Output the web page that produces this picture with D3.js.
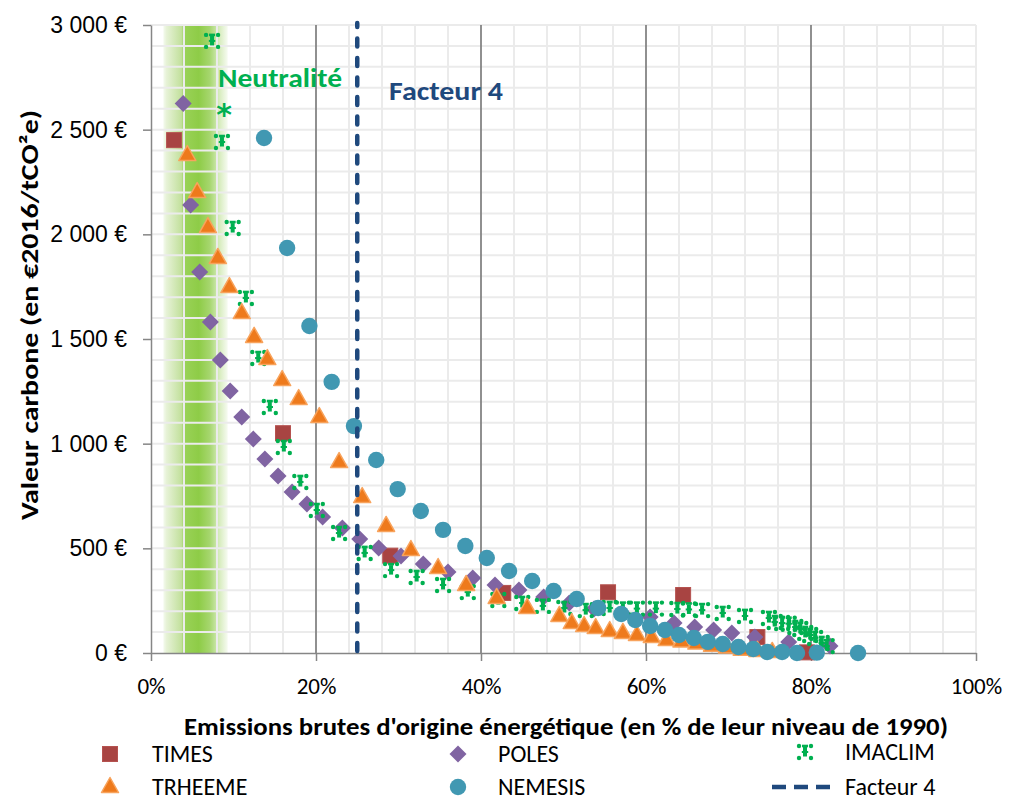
<!DOCTYPE html>
<html><head><meta charset="utf-8">
<script src="https://cdn.jsdelivr.net/npm/d3@7"></script>
<style>body{margin:0;background:#fff}svg{display:block}</style>
</head><body><svg id="c" width="1010" height="802"></svg>
<script>
// ---------- DATA ----------
const xTicks = [0, 20, 40, 60, 80, 100];
const xTickLabels = ["0%", "20%", "40%", "60%", "80%", "100%"];
const yTicks = [0, 500, 1000, 1500, 2000, 2500, 3000];
const yTickLabels = ["0 €", "500 €", "1 000 €", "1 500 €", "2 000 €", "2 500 €", "3 000 €"];

const seriesNames = ["TIMES", "POLES", "IMACLIM", "TRHEEME", "NEMESIS", "Facteur 4"];

const times = [[2.8,2450],[16,1050],[29,465],[42.7,287],[55.4,290],[64.5,277],[73.5,76],[79.5,3]];
const poles = [[3.9,2625],[4.8,2140],[5.9,1820],[7.2,1581],[8.4,1400],[9.6,1252],[11,1127],[12.4,1022],
  [13.8,927],[15.4,846],[17.1,769],[18.9,712],[20.8,650],[23.2,597],[25.3,545],[27.6,502],[30.3,463],
  [33,425],[36,387],[39,358],[41.7,325],[44.6,301],[47.6,268],[50.7,239],[53.7,210],[57.1,191],
  [60.5,172],[63.4,143],[65.9,124],[68.2,110],[70.4,96],[73.2,76],[77.3,53],[82.3,33]];
const imaclim = [[7.4,2924],[8.6,2441],[9.9,2030],[11.5,1696],[13,1409],[14.4,1175],[16.1,984],[18.1,817],
  [20.1,683],[22.8,573],[25.9,478],[29.1,396],[32.2,363],[35.4,325],[38.4,291],[42.1,253],[45,239],
  [47.5,225],[50.1,215],[52.7,205],[55.6,215],[57.2,212],[58.9,212],[61.2,212],[63.8,210],[65.2,208],
  [66.8,205],[69.3,191],[72,177],[74.9,167],[75.6,148],[76.5,143],[77.3,140],[78.1,124],[78.7,115],
  [79.3,96],[79.9,86],[80.5,72],[81.3,48],[81.9,33]];
const trheeme = [[4.4,2379],[5.6,2202],[6.9,2035],[8.1,1887],[9.5,1748],[11,1624],[12.5,1510],[14.1,1404],
  [15.9,1304],[17.9,1213],[20.4,1127],[22.8,912],[25.6,745],[28.5,607],[31.5,492],[34.8,406],[38.2,325],
  [41.9,263],[45.6,215],[49.5,177],[51,143],[52.5,129],[53.9,119],[55.6,105],[57.2,96],[58.9,86],
  [60.7,76],[62.5,62],[64.3,55],[66.1,45],[68,35],[69.8,26],[71.6,16],[73.5,10],[75.3,5]];
const nemesis = [[13.7,2460],[16.5,1935],[19.2,1562],[21.9,1295],[24.6,1084],[27.3,922],[29.9,783],
  [32.7,678],[35.4,588],[38.1,511],[40.7,454],[43.4,392],[46.2,344],[48.8,296],[51.6,258],[54.2,215],
  [57,186],[58.7,158],[60.5,129],[62.3,110],[64,86],[65.8,72],[67.5,53],[69.3,43],[71.2,29],[73,19],
  [74.7,5],[76.5,5],[78.3,0],[80.7,2],[85.7,0]];
const facteur4 = [[25,0],[25,3000]];
const neutraliteBand = [1.5, 9.3];

const xTitle = "Emissions brutes d'origine énergétique (en % de leur niveau de 1990)";
const yTitle = "Valeur carbone (en €2016/tCO²e)";

// ---------- CHART ----------
const svg = d3.select("#c");
const L = 151, R = 976, T = 25, B = 653;
const x = d3.scaleLinear().domain([0, 100]).range([L, R]);
const y = d3.scaleLinear().domain([0, 3000]).range([B, T]);
const calibri = "Carlito, Calibri, Lato, sans-serif";

const defs = svg.append("defs");
const grad = defs.append("linearGradient").attr("id", "band").attr("x1", 0).attr("x2", 1).attr("y1", 0).attr("y2", 0);
[[0,"#f4faee"],[0.05,"#e6f2d6"],[0.28,"#c2e09c"],[0.32,"#9ad258"],[0.55,"#8ecc47"],[0.72,"#a6d66e"],
 [0.86,"#d4ebb9"],[1,"#f7fbf2"]].forEach(([o,c]) => grad.append("stop").attr("offset", o).attr("stop-color", c));

svg.append("rect").attr("x", x(neutraliteBand[0])).attr("y", T)
  .attr("width", x(neutraliteBand[1]) - x(neutraliteBand[0])).attr("height", B - T)
  .attr("fill", "url(#band)");

// minor grid
const gMinor = svg.append("g").attr("stroke", "#ebebeb").attr("stroke-width", 2);
gMinor.selectAll("line.vx").data(d3.range(4, 101, 4).filter(v => v % 20 !== 0 || v === 100)).join("line")
  .attr("x1", d => x(d)).attr("x2", d => x(d)).attr("y1", T).attr("y2", B);
gMinor.selectAll("line.hy").data(d3.range(100, 3001, 100)).join("line")
  .attr("x1", L).attr("x2", R).attr("y1", d => y(d)).attr("y2", d => y(d));
// major vertical grid
svg.append("g").attr("stroke", "#808080").attr("stroke-width", 1.75)
  .selectAll("line").data(xTicks.filter(v => v > 0 && v < 100)).join("line")
  .attr("x1", d => x(d)).attr("x2", d => x(d)).attr("y1", T).attr("y2", B);

// axes
const yAxis = d3.axisLeft(y).tickValues(yTicks).tickSize(8).tickSizeOuter(0).tickPadding(16)
  .tickFormat((d, i) => yTickLabels[i]);
const gy = svg.append("g").attr("transform", `translate(${L},0)`).call(yAxis);
gy.selectAll("path,line").attr("stroke", "#868686").attr("stroke-width", 1.5);
gy.selectAll("text").attr("font-family", "'Liberation Sans', Arial, sans-serif").attr("font-size", 23).attr("fill", "#000");

const xAxis = d3.axisBottom(x).tickValues(xTicks).tickSize(8).tickSizeOuter(0).tickPadding(17)
  .tickFormat((d, i) => xTickLabels[i]);
const gx = svg.append("g").attr("transform", `translate(0,${B})`).call(xAxis);
gx.selectAll("path,line").attr("stroke", "#868686").attr("stroke-width", 1.5);
gx.selectAll("text").attr("font-family", calibri).attr("font-size", 23).attr("fill", "#000");

// titles
svg.append("text").attr("x", 566).attr("y", 735).attr("text-anchor", "middle")
  .attr("font-family", calibri).attr("font-weight", "bold").attr("font-size", 24)
  .attr("textLength", 764).attr("lengthAdjust", "spacingAndGlyphs").text(xTitle);
svg.append("text").attr("transform", "translate(38,315) rotate(-90)").attr("text-anchor", "middle")
  .attr("font-family", calibri).attr("font-weight", "bold").attr("font-size", 24)
  .attr("textLength", 410).attr("lengthAdjust", "spacingAndGlyphs").text(yTitle);

// markers
const colors = {TIMES:"#a84442", POLES:"#8064a2", IMACLIM:"#00b050", TRHEEME:"#ee7a1c", NEMESIS:"#4198b2", F4:"#1f497d"};
function drawMarker(g, name) {
  if (name === "TIMES") {
    g.append("rect").attr("x", -7.5).attr("y", -7.5).attr("width", 15).attr("height", 15)
      .attr("fill", colors.TIMES).attr("stroke", "#b5524f").attr("stroke-width", 1);
  } else if (name === "POLES") {
    g.append("path").attr("d", "M0,-8.5L8.5,0L0,8.5L-8.5,0Z").attr("fill", colors.POLES);
  } else if (name === "TRHEEME") {
    g.append("path").attr("d", "M0,-9.5L8.5,5.5L-8.5,5.5Z").attr("fill", colors.TRHEEME)
      .attr("stroke", "#f8a35c").attr("stroke-width", 1.5).attr("stroke-linejoin", "round");
  } else if (name === "NEMESIS") {
    g.append("circle").attr("r", 8.2).attr("fill", colors.NEMESIS);
  } else if (name === "IMACLIM") {
    const c = colors.IMACLIM;
    [[-6,-6],[6,-6],[-6,6],[6,6]].forEach(([dx, dy]) =>
      g.append("circle").attr("cx", dx).attr("cy", dy).attr("r", 2.2).attr("fill", c));
    g.append("rect").attr("x", -3).attr("y", -7.3).attr("width", 6).attr("height", 2.6).attr("fill", c);
    g.append("rect").attr("x", -2).attr("y", -5).attr("width", 4).attr("height", 9.5).attr("fill", c);
    g.append("rect").attr("x", -3.2).attr("y", -1).attr("width", 6.4).attr("height", 2).attr("fill", c);
  }
}
const seriesData = [["TIMES", times], ["POLES", poles], ["IMACLIM", imaclim], ["TRHEEME", trheeme], ["NEMESIS", nemesis]];
seriesData.forEach(([name, data]) => {
  svg.append("g").selectAll("g").data(data).join("g")
    .attr("transform", d => `translate(${x(d[0])},${y(d[1])})`)
    .each(function () { drawMarker(d3.select(this), name); });
});

// Facteur 4 line
svg.append("path").datum(facteur4)
  .attr("d", d3.line().x(d => x(d[0])).y(d => y(d[1])))
  .attr("stroke", colors.F4).attr("stroke-width", 4.5).attr("stroke-dasharray", "8 11.5")
  .attr("stroke-linecap", "round").attr("fill", "none").attr("transform", "translate(0,-2)");

// annotations
svg.append("text").attr("x", 218).attr("y", 87).attr("font-family", calibri).attr("font-weight", "bold")
  .attr("font-size", 26).attr("fill", "#00b050").attr("textLength", 124).attr("lengthAdjust", "spacingAndGlyphs")
  .text("Neutralité");
svg.append("text").attr("x", 224).attr("y", 125).attr("text-anchor", "middle")
  .attr("font-family", "'DejaVu Sans', sans-serif")
  .attr("font-weight", "bold").attr("font-size", 30).attr("fill", "#00b050").text("*");
svg.append("text").attr("x", 389).attr("y", 100).attr("font-family", calibri).attr("font-weight", "bold")
  .attr("font-size", 26).attr("fill", "#1f497d").attr("textLength", 114).attr("lengthAdjust", "spacingAndGlyphs")
  .text("Facteur 4");

// legend
const legendItems = [
  {name: "TIMES", mx: 110, tx: 152, y: 754},
  {name: "POLES", mx: 458, tx: 498, y: 754},
  {name: "IMACLIM", mx: 805, tx: 845, y: 752},
  {name: "TRHEEME", mx: 110, tx: 152, y: 787},
  {name: "NEMESIS", mx: 458, tx: 498, y: 787},
  {name: "Facteur 4", mx: 801, tx: 845, y: 787}
];
const lg = svg.append("g");
legendItems.forEach(it => {
  const g = lg.append("g").attr("transform", `translate(${it.mx},${it.y})`);
  if (it.name === "Facteur 4") {
    g.append("line").attr("x1", -29).attr("x2", 29).attr("y1", 0).attr("y2", 0)
      .attr("stroke", colors.F4).attr("stroke-width", 4.5).attr("stroke-dasharray", "14 8")
      .attr("stroke-linecap", "butt");
  } else {
    drawMarker(g, it.name);
  }
  lg.append("text").attr("x", it.tx).attr("y", it.y).attr("dy", "0.35em")
    .attr("font-family", calibri).attr("font-size", 24).attr("fill", "#000").text(it.name);
});
</script>
</body></html>
